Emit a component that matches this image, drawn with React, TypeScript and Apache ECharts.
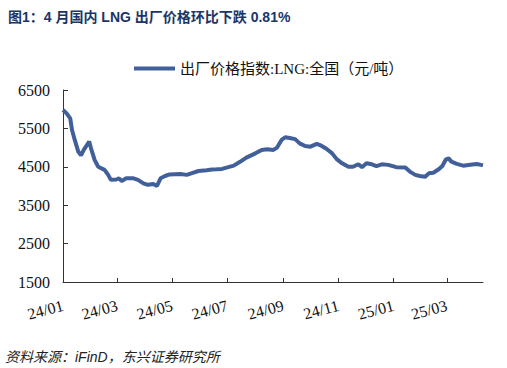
import React, { useEffect, useRef } from "react";
import * as echarts from "echarts";

const TITLE = "图1：4 月国内 LNG 出厂价格环比下跌 0.81%";
const SERIES_NAME = "出厂价格指数:LNG:全国（元/吨）";
const SOURCE = "资料来源：iFinD，东兴证券研究所";

const START_DATE = "2024-01-01";
const END_DATE = "2025-04-10";

const dates = [
  "2024-01-01", "2024-01-05", "2024-01-09", "2024-01-11", "2024-01-14", "2024-01-18",
  "2024-01-21", "2024-01-24", "2024-01-30", "2024-02-01", "2024-02-05", "2024-02-09",
  "2024-02-16", "2024-02-20", "2024-02-23", "2024-02-29", "2024-03-03", "2024-03-06",
  "2024-03-11", "2024-03-19", "2024-03-24", "2024-03-30", "2024-04-04", "2024-04-10",
  "2024-04-14", "2024-04-18", "2024-04-23", "2024-04-28", "2024-05-10", "2024-05-17",
  "2024-05-22", "2024-05-30", "2024-06-08", "2024-06-14", "2024-06-19", "2024-06-25",
  "2024-07-02", "2024-07-08", "2024-07-15", "2024-07-22", "2024-08-01", "2024-08-08",
  "2024-08-14", "2024-08-21", "2024-08-25", "2024-08-30", "2024-09-03", "2024-09-08",
  "2024-09-14", "2024-09-19", "2024-09-25", "2024-10-01", "2024-10-08", "2024-10-13",
  "2024-10-19", "2024-10-25", "2024-10-30", "2024-11-05", "2024-11-12", "2024-11-17",
  "2024-11-23", "2024-11-27", "2024-12-02", "2024-12-08", "2024-12-13", "2024-12-19",
  "2024-12-26", "2025-01-04", "2025-01-14", "2025-01-19", "2025-01-25", "2025-01-30",
  "2025-02-05", "2025-02-09", "2025-02-14", "2025-02-20", "2025-02-24", "2025-02-28",
  "2025-03-03", "2025-03-06", "2025-03-12", "2025-03-19", "2025-03-27", "2025-04-03",
  "2025-04-08", "2025-04-10",
];

const values = [
  5980, 5890, 5760, 5460, 5200, 4890,
  4800, 4940, 5160, 4980, 4680, 4500,
  4420, 4290, 4160, 4170, 4200, 4130,
  4200, 4200, 4160, 4070, 4030, 4050,
  4000, 4200, 4260, 4300, 4310, 4290,
  4330, 4390, 4410, 4430, 4435, 4445,
  4490, 4530, 4630, 4740, 4850, 4940,
  4955, 4940, 5000, 5200, 5270, 5250,
  5220, 5110, 5040, 5025, 5095, 5050,
  4965, 4850, 4700, 4590, 4500, 4500,
  4565, 4490, 4590, 4565, 4520, 4565,
  4550, 4490, 4480, 4375, 4290, 4260,
  4240, 4330, 4345, 4435, 4520, 4695,
  4720, 4635, 4575, 4530, 4555, 4575,
  4550, 4540,
];

const Y_MIN = 1500;
const Y_MAX = 6500;
const Y_STEP = 1000;

function buildDays(start: string, end: string): string[] {
  const out: string[] = [];
  const s = Date.parse(start + "T00:00:00Z");
  const e = Date.parse(end + "T00:00:00Z");
  for (let t = s; t <= e; t += 86400000) {
    out.push(new Date(t).toISOString().slice(0, 10));
  }
  return out;
}

function isTickDay(v: string): boolean {
  if (!v.endsWith("-01")) return false;
  const m = parseInt(v.slice(5, 7), 10);
  return m % 2 === 1;
}

export default function App() {
  const ref = useRef<HTMLDivElement>(null);

  useEffect(() => {
    if (!ref.current) return;
    const chart = echarts.init(ref.current, null, { renderer: "svg" });
    const days = buildDays(START_DATE, END_DATE);
    const idx: Record<string, number> = {};
    days.forEach((d, i) => (idx[d] = i));
    const seriesData = dates.map((d, i) => [idx[d], values[i]]);

    const axisColor = "#333333";
    const serif = "'Liberation Serif', 'Times New Roman', serif";

    chart.setOption({
      animation: false,
      backgroundColor: "#ffffff",
      title: {
        text: TITLE,
        left: 3,
        top: 5,
        textStyle: {
          fontSize: 14,
          fontWeight: "bold",
          color: "#1B3567",
          fontFamily: "'Liberation Sans', 'Noto Sans CJK SC', sans-serif",
        },
      },
      legend: {
        left: 134,
        top: 61,
        padding: 0,
        icon: "rect",
        itemWidth: 41,
        itemHeight: 4,
        itemGap: 10,
        textStyle: {
          fontSize: 15,
          color: "#111111",
          fontFamily: "'Liberation Serif', 'Noto Sans CJK SC', serif",
        },
        data: [SERIES_NAME],
      },
      grid: {
        left: 63,
        right: 24,
        top: 90,
        bottom: 86,
        containLabel: false,
      },
      xAxis: {
        type: "category",
        data: days,
        boundaryGap: false,
        axisLine: { show: true, lineStyle: { color: axisColor, width: 1 } },
        axisTick: {
          show: true,
          inside: true,
          length: 4,
          interval: (_i: number, v: string) => isTickDay(v),
          lineStyle: { color: axisColor },
        },
        axisLabel: {
          interval: (_i: number, v: string) => isTickDay(v),
          rotate: 15,
          margin: 23,
          fontSize: 16,
          color: "#111111",
          fontFamily: serif,
          formatter: (v: string) => v.slice(2, 4) + "/" + v.slice(5, 7),
        },
        splitLine: { show: false },
      },
      yAxis: {
        type: "value",
        min: Y_MIN,
        max: Y_MAX,
        interval: Y_STEP,
        axisLine: { show: true, lineStyle: { color: axisColor, width: 1 } },
        axisTick: { show: true, inside: true, length: 5, lineStyle: { color: axisColor } },
        axisLabel: {
          margin: 13,
          fontSize: 16,
          color: "#111111",
          fontFamily: serif,
          formatter: (v: number) => String(v),
        },
        splitLine: { show: false },
      },
      series: [
        {
          name: SERIES_NAME,
          type: "line",
          data: seriesData,
          symbol: "none",
          smooth: false,
          lineStyle: { color: "#41609A", width: 4 },
          itemStyle: { color: "#41609A" },
        },
      ],
      graphic: [
        {
          type: "text",
          left: 5,
          top: 350,
          style: {
            text: SOURCE,
            fontSize: 14,
            fontStyle: "italic",
            fill: "#222222",
            fontFamily: "'Liberation Sans', 'Noto Sans CJK SC', sans-serif",
          },
        },
      ],
    });

    return () => chart.dispose();
  }, []);

  return (
    <div
      ref={ref}
      style={{ position: "absolute", left: 0, top: 0, width: 507, height: 368 }}
    />
  );
}
